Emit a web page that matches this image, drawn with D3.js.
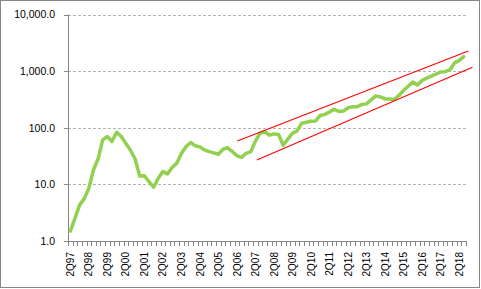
<!DOCTYPE html>
<html>
<head>
<meta charset="utf-8">
<script src="https://cdn.jsdelivr.net/npm/d3@7"></script>
<style>
  html, body { margin: 0; padding: 0; background: #fff; }
  svg { display: block; font-family: "Liberation Sans", Arial, sans-serif; }
</style>
</head>
<body>
<svg id="chart" width="481" height="289"></svg>
<script>
// Quarter categories, 2Q97 .. 3Q18
const quarters = [
  "2Q97","3Q97","4Q97","1Q98","2Q98","3Q98","4Q98","1Q99","2Q99","3Q99","4Q99","1Q00",
  "2Q00","3Q00","4Q00","1Q01","2Q01","3Q01","4Q01","1Q02","2Q02","3Q02","4Q02","1Q03",
  "2Q03","3Q03","4Q03","1Q04","2Q04","3Q04","4Q04","1Q05","2Q05","3Q05","4Q05","1Q06",
  "2Q06","3Q06","4Q06","1Q07","2Q07","3Q07","4Q07","1Q08","2Q08","3Q08","4Q08","1Q09",
  "2Q09","3Q09","4Q09","1Q10","2Q10","3Q10","4Q10","1Q11","2Q11","3Q11","4Q11","1Q12",
  "2Q12","3Q12","4Q12","1Q13","2Q13","3Q13","4Q13","1Q14","2Q14","3Q14","4Q14","1Q15",
  "2Q15","3Q15","4Q15","1Q16","2Q16","3Q16","4Q16","1Q17","2Q17","3Q17","4Q17","1Q18",
  "2Q18","3Q18"
];

// Series values (log scale)
const values = [
  1.5, 2.5, 4.3, 5.6, 8.5, 18, 28, 61, 70, 57, 83, 70,
  53, 40, 28, 14, 14.2, 11.2, 8.9, 12.8, 16.8, 15.3, 19.8, 23.6,
  35, 46, 55, 48, 46, 40.5, 37.8, 36, 34, 41.7, 44.5, 38,
  32, 30, 35.4, 37.8, 58, 80, 85, 74, 78, 76, 49, 63,
  80, 88, 120, 125, 130, 132, 165, 172, 190, 212, 194, 198,
  224, 236, 236, 258, 264, 310, 365, 350, 323, 323, 316, 372,
  456, 540, 644, 570, 685, 750, 813, 882, 968, 980, 1050, 1396,
  1534, 1803
];

// Channel lines: [category index, value] end points
const upperChannel = [[36.1, 58.5], [86.0, 2275]];
const lowerChannel = [[40.3, 27], [86.9, 1172]];

const yTicks = [1, 10, 100, 1000, 10000];
const xLabels = ["2Q97","2Q98","2Q99","2Q00","2Q01","2Q02","2Q03","2Q04","2Q05","2Q06","2Q07",
  "2Q08","2Q09","2Q10","2Q11","2Q12","2Q13","2Q14","2Q15","2Q16","2Q17","2Q18"];

const svg = d3.select("#chart");
const plot = { left: 68, right: 466, top: 14.5, bottom: 241 };

// frame
svg.append("rect")
  .attr("x", 0.5).attr("y", 0.5)
  .attr("width", 479).attr("height", 287)
  .attr("fill", "#fff")
  .attr("stroke", "#868686");

const x = d3.scaleLinear()
  .domain([-0.5, quarters.length - 0.5])
  .range([plot.left, plot.right]);

const y = d3.scaleLog()
  .domain([1, 10000])
  .range([plot.bottom, plot.top]);

// gridlines
svg.append("g")
  .selectAll("line")
  .data(yTicks.slice(1))
  .join("line")
  .attr("x1", plot.left).attr("x2", plot.right)
  .attr("y1", d => Math.round(y(d)) + 0.5)
  .attr("y2", d => Math.round(y(d)) + 0.5)
  .attr("stroke", "#b4b4b4")
  .attr("stroke-width", 1)
  .attr("stroke-dasharray", "3,2");

// y axis
const yAxis = svg.append("g");
yAxis.append("line")
  .attr("x1", plot.left + 0.5).attr("x2", plot.left + 0.5)
  .attr("y1", plot.top).attr("y2", plot.bottom + 0.5)
  .attr("stroke", "#868686");
yAxis.selectAll("line.tick")
  .data(yTicks)
  .join("line")
  .attr("class", "tick")
  .attr("x1", plot.left - 4).attr("x2", plot.left)
  .attr("y1", d => Math.round(y(d)) + 0.5)
  .attr("y2", d => Math.round(y(d)) + 0.5)
  .attr("stroke", "#868686");
yAxis.selectAll("text")
  .data(yTicks)
  .join("text")
  .attr("x", 55)
  .attr("y", d => y(d))
  .attr("dy", "0.38em")
  .attr("text-anchor", "end")
  .attr("font-size", "10.5px")
  .attr("fill", "#000")
  .text(d => d3.format(",.1f")(d));

// x axis
const xAxis = svg.append("g");
xAxis.append("line")
  .attr("x1", plot.left).attr("x2", plot.right)
  .attr("y1", plot.bottom + 0.5).attr("y2", plot.bottom + 0.5)
  .attr("stroke", "#868686");
xAxis.selectAll("line.tick")
  .data(d3.range(quarters.length + 1))
  .join("line")
  .attr("class", "tick")
  .attr("x1", i => Math.round(x(i - 0.5)) + 0.5)
  .attr("x2", i => Math.round(x(i - 0.5)) + 0.5)
  .attr("y1", plot.bottom).attr("y2", plot.bottom + 5)
  .attr("stroke", "#868686");
xAxis.selectAll("text")
  .data(xLabels)
  .join("text")
  .attr("transform", d => `translate(${x(quarters.indexOf(d))},252) rotate(-90)`)
  .attr("dy", "0.36em")
  .attr("text-anchor", "end")
  .attr("font-size", "10px")
  .attr("fill", "#000")
  .text(d => d);

// main series
const line = d3.line()
  .x((d, i) => x(i))
  .y(d => y(d));

svg.append("path")
  .datum(values)
  .attr("fill", "none")
  .attr("stroke", "#92D050")
  .attr("stroke-width", 3.5)
  .attr("stroke-linejoin", "round")
  .attr("stroke-linecap", "round")
  .attr("d", line);

// channel lines
const chLine = d3.line()
  .x(d => x(d[0]))
  .y(d => y(d[1]));

[upperChannel, lowerChannel].forEach(ch => {
  svg.append("path")
    .datum(ch)
    .attr("fill", "none")
    .attr("stroke", "#ff0000")
    .attr("stroke-width", 1.1)
    .attr("d", chLine);
});
</script>
</body>
</html>
